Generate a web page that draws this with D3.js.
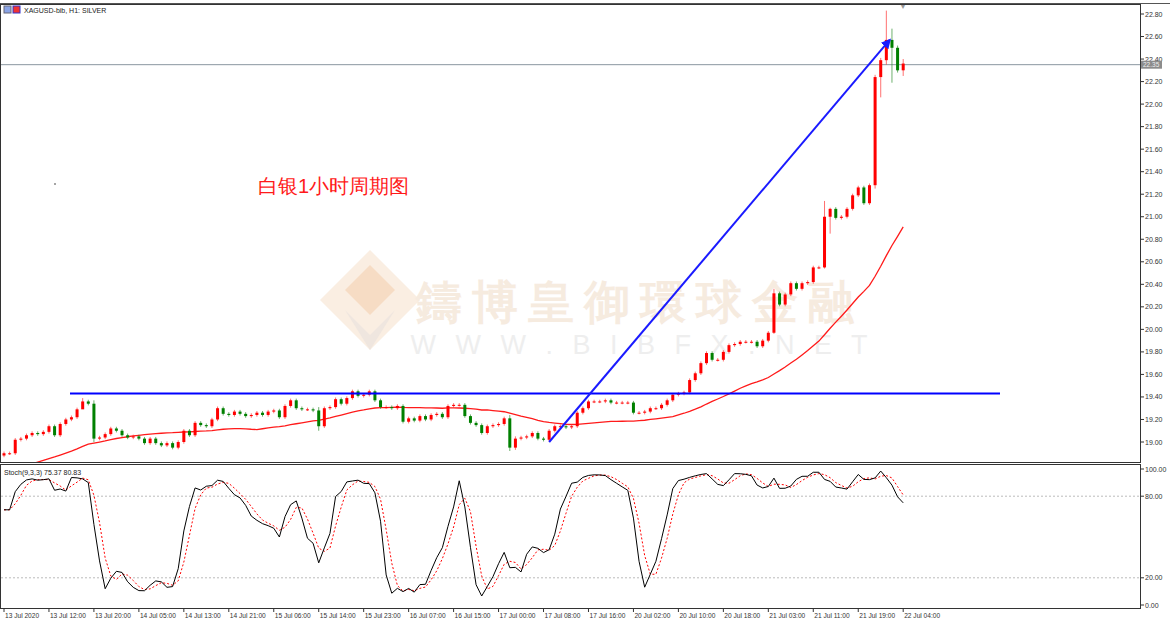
<!DOCTYPE html>
<html>
<head>
<meta charset="utf-8">
<script src="https://cdn.jsdelivr.net/npm/d3@7"></script>
<style>
  body { margin: 0; background: #fff; }
  text { font-family: "Liberation Sans", Arial, sans-serif; }
</style>
</head>
<body>
<div id="chart"></div>
<script>
// hourly closes, XAGUSD 13 Jul - 22 Jul 2020
const closes = [
  18.9, 18.9, 19.02, 19.03, 19.06, 19.08, 19.07, 19.09, 19.14, 19.06, 19.16, 19.2, 19.22, 19.29, 19.36, 19.34, 19.03,
  19.04, 19.07, 19.12, 19.1, 19.06, 19.04, 19.05, 19.03, 18.99, 19.03, 18.99, 18.97, 18.99, 18.95, 19.0, 19.1,
  19.06, 19.17, 19.15, 19.14, 19.2, 19.3, 19.25, 19.24, 19.27, 19.25, 19.23, 19.24, 19.26, 19.24, 19.27,
  19.28, 19.22, 19.32, 19.37, 19.3, 19.29, 19.29, 19.28, 19.14, 19.3, 19.31, 19.38, 19.34, 19.39, 19.45, 19.41,
  19.42, 19.45, 19.37, 19.31, 19.31, 19.3, 19.32, 19.18, 19.21, 19.19, 19.23, 19.2, 19.24, 19.25, 19.22, 19.32,
  19.33, 19.33, 19.23, 19.17, 19.15, 19.08, 19.14, 19.15, 19.16, 19.21, 18.95, 19.03, 19.04, 19.05, 19.08, 19.03,
  19.02, 19.1,
  19.14, 19.14, 19.13, 19.14, 19.26, 19.3, 19.36, 19.36, 19.36, 19.37, 19.35, 19.35, 19.35, 19.35, 19.26, 19.26,
  19.27, 19.3, 19.3, 19.33, 19.37, 19.42, 19.43, 19.44, 19.55, 19.61, 19.7, 19.79, 19.73, 19.73, 19.8, 19.86,
  19.87, 19.89, 19.89, 19.89, 19.85, 19.9, 19.97, 20.32,
  20.22, 20.31, 20.41, 20.36, 20.41, 20.42, 20.55, 20.55, 21.0, 21.07, 20.99, 21.0, 21.07, 21.19, 21.26, 21.12,
  21.28, 22.24, 22.39, 22.57, 22.5, 22.3, 22.36
];
const firstOpen = 18.88;
// closes before the visible window, only used for the moving average
const prehistory = [18.55, 18.58, 18.6, 18.57, 18.6, 18.62, 18.6, 18.62, 18.65, 18.63, 18.66, 18.68, 18.7, 18.69,
  18.72, 18.74, 18.73, 18.76, 18.78, 18.77, 18.8, 18.82, 18.81, 18.84, 18.85, 18.83, 18.86, 18.87, 18.88, 18.89];
const maPeriod = 30;
// long wicks: bar index -> [high, low]
const wicks = { 14: [19.39, 19.3], 16: [19.37, 19.0], 56: [19.31, 19.1], 90: [19.24, 18.92], 91: [19.05, 18.93],
  137: [20.36, 19.96], 146: [21.14, 20.54], 147: [21.08, 20.85], 155: [22.26, 21.25], 156: [22.41, 22.06],
  157: [22.83, 22.35], 158: [22.67, 22.19], 159: [22.52, 22.28], 160: [22.4, 22.25] };
const timeLabels = ["13 Jul 2020", "13 Jul 12:00", "13 Jul 20:00", "14 Jul 05:00", "14 Jul 13:00", "14 Jul 21:00",
  "15 Jul 06:00", "15 Jul 14:00", "15 Jul 23:00", "16 Jul 07:00", "16 Jul 15:00", "17 Jul 00:00", "17 Jul 08:00",
  "17 Jul 16:00", "20 Jul 02:00", "20 Jul 10:00", "20 Jul 18:00", "21 Jul 03:00", "21 Jul 11:00", "21 Jul 19:00",
  "22 Jul 04:00"];
const priceTicks = [19.0, 19.2, 19.4, 19.6, 19.8, 20.0, 20.2, 20.4, 20.6, 20.8, 21.0, 21.2, 21.4, 21.6, 21.8,
  22.0, 22.2, 22.4, 22.6, 22.8];
const stochTicks = [0, 20, 80, 100];
const resistance = 19.43;
const trend = [[97.0, 19.0], [157.6, 22.57]];
const lastPrice = 22.35;

// build candles
const bars = closes.map((c, i) => {
  const o = i === 0 ? firstOpen : closes[i - 1];
  const w = wicks[i];
  return { i, o, c, h: w ? w[0] : Math.max(o, c) + 0.015, l: w ? w[1] : Math.min(o, c) - 0.015 };
});

const W = 1170, H = 622, plotR = 1140;
const svg = d3.select("#chart").append("svg").attr("width", W).attr("height", H);

const x = d3.scaleLinear().domain([0, 1]).range([4, 4 + 5.62]);
const y = d3.scaleLinear().domain([19.0, 22.8]).range([442, 14]);
const ys = d3.scaleLinear().domain([0, 100]).range([605, 469]);

// frames
svg.append("line").attr("x1", 0).attr("x2", W).attr("y1", 3.5).attr("y2", 3.5).attr("stroke", "#555");
svg.append("rect").attr("x", 0.5).attr("y", 4.5).attr("width", plotR).attr("height", 458).attr("fill", "none").attr("stroke", "#333");
svg.append("rect").attr("x", 0.5).attr("y", 464.5).attr("width", plotR).attr("height", 144).attr("fill", "none").attr("stroke", "#333");
svg.append("defs").append("clipPath").attr("id", "clipMain")
  .append("rect").attr("x", 1).attr("y", 5).attr("width", plotR - 1).attr("height", 457);

// watermark
const wm = svg.append("g");
wm.append("polygon").attr("points", "370,250 420,300 370,350 320,300").attr("fill", "#faeee2");
wm.append("polygon").attr("points", "370,265 395,290 370,315 345,290").attr("fill", "#f6dcc4");
wm.append("polygon").attr("points", "345,310 370,335 395,310 370,350").attr("fill", "#efe6df");
wm.append("text").attr("x", 640).attr("y", 318).attr("text-anchor", "middle")
  .attr("font-family", "Noto Sans CJK TC").attr("font-weight", "bold").attr("font-size", 46).attr("letter-spacing", 10)
  .attr("fill", "#f6ebdf").text("鑄博皇御環球金融");
wm.append("text").attr("x", 642).attr("y", 354).attr("text-anchor", "middle")
  .attr("font-size", 27).attr("letter-spacing", 6).attr("fill", "#eeeeee").text("W W W . B I B F X . N E T");

// price axis
const pa = svg.append("g").attr("font-size", 7).attr("fill", "#333");
priceTicks.forEach(p => {
  pa.append("line").attr("x1", plotR).attr("x2", plotR + 4).attr("y1", y(p)).attr("y2", y(p)).attr("stroke", "#333");
  pa.append("text").attr("x", plotR + 5).attr("y", y(p) + 2.5).text(p.toFixed(2));
});
stochTicks.forEach(s => {
  pa.append("line").attr("x1", plotR).attr("x2", plotR + 4).attr("y1", ys(s)).attr("y2", ys(s)).attr("stroke", "#333");
  pa.append("text").attr("x", plotR + 5).attr("y", ys(s) + 2.5).text(s.toFixed(2));
});
[20, 80].forEach(s => svg.append("line").attr("x1", 1).attr("x2", plotR).attr("y1", ys(s)).attr("y2", ys(s))
  .attr("stroke", "#bbb").attr("stroke-dasharray", "2,2"));

// time axis
timeLabels.forEach((t, k) => {
  const tx = x(k * 8);
  svg.append("line").attr("x1", tx).attr("x2", tx).attr("y1", 608).attr("y2", 612).attr("stroke", "#333");
  svg.append("text").attr("x", tx + 1).attr("y", 618).attr("font-size", 6.6).attr("fill", "#333").text(t);
});

const main = svg.append("g").attr("clip-path", "url(#clipMain)");

// last price line
main.append("line").attr("x1", 1).attr("x2", plotR).attr("y1", y(lastPrice)).attr("y2", y(lastPrice)).attr("stroke", "#8a96a0");
svg.append("rect").attr("x", plotR + 1).attr("y", y(lastPrice) - 4).attr("width", 21).attr("height", 8).attr("fill", "#8c8c8c");
svg.append("text").attr("x", plotR + 3).attr("y", y(lastPrice) + 2.5).attr("font-size", 6.5).attr("fill", "#eee").text(lastPrice.toFixed(2));

// moving average
const all = prehistory.concat(closes), n0 = prehistory.length;
const ma = closes.map((c, i) => d3.mean(all.slice(i + n0 - maPeriod + 1, i + n0 + 1)));
main.append("path").attr("d", d3.line().x((d, i) => x(i)).y(d => y(d))(ma))
  .attr("fill", "none").attr("stroke", "#ff1a1a").attr("stroke-width", 1.3);

// candles
const cg = main.selectAll(".c").data(bars).enter().append("g");
cg.append("line").attr("x1", d => x(d.i)).attr("x2", d => x(d.i)).attr("y1", d => y(d.h)).attr("y2", d => y(d.l))
  .attr("stroke", d => d.c >= d.o ? "#ff3333" : "#2f8f2f").attr("stroke-opacity", 0.7);
cg.append("rect").attr("x", d => x(d.i) - 1.5).attr("width", 3)
  .attr("y", d => y(Math.max(d.o, d.c))).attr("height", d => Math.max(1, Math.abs(y(d.o) - y(d.c))))
  .attr("fill", d => d.c >= d.o ? "#ff0000" : "#008000");

// resistance line
main.append("line").attr("x1", 70).attr("x2", 1000).attr("y1", y(resistance)).attr("y2", y(resistance))
  .attr("stroke", "#0000ff").attr("stroke-width", 2);

// trend arrow
svg.select("defs").append("marker").attr("id", "arr").attr("viewBox", "0 0 10 10").attr("refX", 8).attr("refY", 5)
  .attr("markerWidth", 5).attr("markerHeight", 5).attr("orient", "auto")
  .append("path").attr("d", "M0,0L10,5L0,10z").attr("fill", "#1a1aff");
main.append("line").attr("x1", x(trend[0][0])).attr("y1", y(trend[0][1])).attr("x2", x(trend[1][0])).attr("y2", y(trend[1][1]))
  .attr("stroke", "#1a1aff").attr("stroke-width", 2).attr("marker-end", "url(#arr)");

// stochastic 9,3,3
const raw = bars.map((b, i) => {
  const win = bars.slice(Math.max(0, i - 8), i + 1);
  return { c: b.c, hh: d3.max(win, d => d.h), ll: d3.min(win, d => d.l) };
});
const K = raw.map((r, i) => {
  const w = raw.slice(Math.max(0, i - 2), i + 1);
  const num = d3.sum(w, d => d.c - d.ll), den = d3.sum(w, d => d.hh - d.ll);
  return den ? 100 * num / den : 50;
});
const D = K.map((k, i) => d3.mean(K.slice(Math.max(0, i - 2), i + 1)));
const sl = d3.line().x((d, i) => x(i)).y(d => ys(d));
svg.append("path").attr("d", sl(D)).attr("fill", "none").attr("stroke", "#ff0000").attr("stroke-dasharray", "2,2");
svg.append("path").attr("d", sl(K)).attr("fill", "none").attr("stroke", "#000").attr("stroke-width", 1);
svg.append("text").attr("x", 4).attr("y", 475).attr("font-size", 7).attr("fill", "#222").text("Stoch(9,3,3) 75.37 80.83");

// header
svg.append("rect").attr("x", 4).attr("y", 6).attr("width", 7).attr("height", 7).attr("fill", "#8aa4e6").attr("stroke", "#667");
svg.append("rect").attr("x", 13).attr("y", 6).attr("width", 7).attr("height", 7).attr("fill", "#e33").attr("stroke", "#33c");
svg.append("text").attr("x", 24).attr("y", 12.5).attr("font-size", 7).attr("fill", "#222").text("XAGUSD-bib, H1:  SILVER");
svg.append("text").attr("x", 903).attr("y", 9).attr("font-size", 7).attr("text-anchor", "middle").attr("fill", "#999").text("▼");
svg.append("circle").attr("cx", 55).attr("cy", 184).attr("r", 0.8).attr("fill", "#333");

// title
svg.append("text").attr("x", 258).attr("y", 193).attr("font-family", "Noto Sans CJK SC").attr("font-size", 20)
  .attr("fill", "#ff1a1a").text("白银1小时周期图");
</script>
</body>
</html>
